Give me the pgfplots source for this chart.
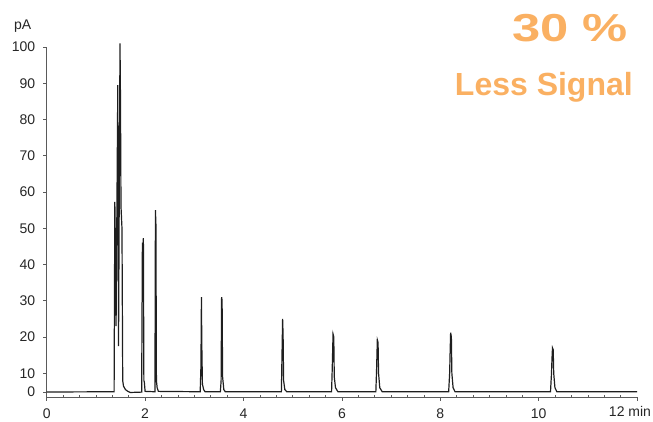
\documentclass[border=0pt]{standalone}
\usepackage{graphicx}
\usepackage{pgfplots}
\pgfplotsset{compat=1.18}
\usepackage{fontspec}
\setmainfont{Liberation Sans}
\definecolor{orng}{RGB}{250,176,98}
\definecolor{axgray}{RGB}{90,90,90}
\definecolor{trace}{RGB}{30,30,30}
\begin{document}
\begin{tikzpicture}
\begin{axis}[
  scale only axis, width=590.4pt, height=350pt,
  xmin=0, xmax=12, ymin=3.45, ymax=100,
  axis x line*=bottom, axis y line*=left,
  clip=false,
  xtick={0,2,4,6,8,10,12}, xticklabels={0,2,4,6,8,10,{}},
  minor x tick num=5,
  ytick={4.83,10,20,30,40,50,60,70,80,90,100},
  yticklabels={0,10,20,30,40,50,60,70,80,90,100},
  tick align=outside, major tick length=3.5pt, minor tick length=2.5pt,
  every minor tick/.append style={yshift=2.5pt},
  tick style={axgray, line width=0.6pt},
  axis line style={axgray, line width=0.9pt},
  ticklabel style={font=\fontsize{14}{15}\selectfont, text=black!85},
  yticklabel style={xshift=-4.5pt},
  xticklabel style={yshift=-5pt},
]
\addplot[trace, line width=1.2pt, mark=none] coordinates {
(0,4.83) (1.37,4.9) (1.385,57.3) (1.40,40) (1.41,23) (1.445,89.5) (1.46,17.5)
(1.475,60) (1.49,101) (1.50,85) (1.51,56) (1.53,50) (1.545,8) (1.56,6.5)
(1.6,5.5) (1.65,5.0) (1.7,4.7) (1.93,4.8)
(1.945,46) (1.955,44) (1.965,47.3) (1.975,8) (1.985,7.5) (2.0,5.0) (2.2,4.9)
(2.21,55) (2.22,51) (2.23,8) (2.245,6) (2.27,5) (3.12,4.9)
(3.135,12) (3.145,31) (3.152,18.5) (3.165,7) (3.19,5.5) (3.22,4.9) (3.53,4.9)
(3.545,8) (3.555,31) (3.565,30) (3.575,9) (3.6,5.5) (3.63,4.9) (4.77,4.9)
(4.785,17) (4.795,25) (4.805,20.4) (4.815,8) (4.84,5.5) (4.88,4.9) (5.79,4.9)
(5.805,12) (5.82,20.8) (5.835,20) (5.845,9) (5.87,6) (5.92,4.9) (6.69,4.9)
(6.705,11) (6.72,19.2) (6.735,18.5) (6.745,10) (6.77,6) (6.82,4.9) (8.17,4.9)
(8.19,10) (8.2,16) (8.21,21.2) (8.225,20) (8.235,10) (8.26,6) (8.3,4.9) (10.24,4.9)
(10.26,10) (10.27,14) (10.28,17) (10.295,16.5) (10.305,10) (10.33,6) (10.37,4.9)
(12,4.9)
};
\coordinate (O) at (rel axis cs:0,0);
\end{axis}
\node[anchor=east, font=\fontsize{14}{15}\selectfont, text=black!85] at ([shift={(-12pt,371pt)}]O) {pA};
\node[anchor=north east, font=\fontsize{14}{15}\selectfont, text=black!85, inner sep=0pt] at ([shift={(604.5pt,-9.5pt)}]O) {12 min};
\node[anchor=base east, font=\fontsize{39}{40}\bfseries\selectfont, text=orng, inner sep=0pt] at ([shift={(581.3pt,355pt)}]O) {\scalebox{1.3}[1]{30 \%}};
\node[anchor=base east, font=\fontsize{32}{33}\bfseries\selectfont, text=orng, inner sep=0pt] at ([shift={(586.3pt,301pt)}]O) {Less Signal};
\pgfresetboundingbox
\path ([shift={(-46.7pt,-24pt)}]O) rectangle ([shift={(606.3pt,397pt)}]O);
\end{tikzpicture}
\end{document}
